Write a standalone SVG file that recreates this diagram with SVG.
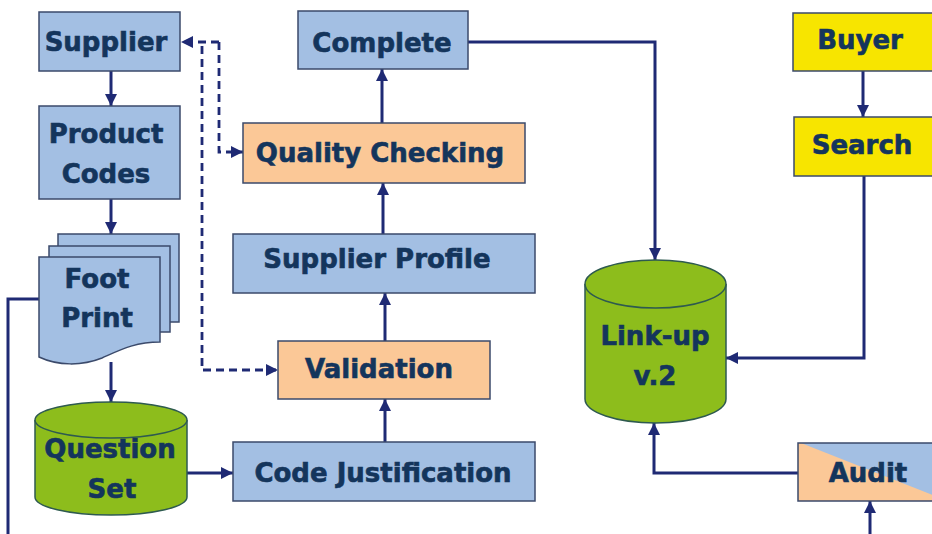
<svg xmlns="http://www.w3.org/2000/svg" width="932" height="534" viewBox="0 0 932 534">
<style>
.box{stroke:#3b4a6b;stroke-width:1.5}
.blue{fill:#a3bfe3}
.orange{fill:#fbc897}
.yellow{fill:#f7e500}
.green{fill:#8dbd1c;stroke:#2e5a50;stroke-width:1.5}
.t{font-family:"DejaVu Sans",Verdana,sans-serif;font-weight:bold;font-size:26px;fill:#14355c;stroke:#14355c;stroke-width:0.6;text-anchor:middle}
.c{fill:none;stroke:#1f2a74;stroke-width:3}
.d{fill:none;stroke:#1f2a74;stroke-width:2.8;stroke-dasharray:8 5}
</style>
<defs>
<marker id="ah" viewBox="0 0 10 10" refX="10" refY="5" markerWidth="12" markerHeight="12" markerUnits="userSpaceOnUse" orient="auto">
<path d="M0,0 L10,5 L0,10 Z" fill="#1f2a74"/>
</marker>
</defs>
<rect width="932" height="534" fill="#ffffff"/>
<g id="connectors">
<path class="c" d="M111,71 V106" marker-end="url(#ah)"/>
<path class="c" d="M111,199 V234" marker-end="url(#ah)"/>
<path class="c" d="M111,362 V402" marker-end="url(#ah)"/>
<path class="c" d="M187,473 H233" marker-end="url(#ah)"/>
<path class="c" d="M385,442 V399" marker-end="url(#ah)"/>
<path class="c" d="M385,341 V293" marker-end="url(#ah)"/>
<path class="c" d="M383,234 V183" marker-end="url(#ah)"/>
<path class="c" d="M382,123 V69" marker-end="url(#ah)"/>
<path class="c" d="M468,42 H655 V260" marker-end="url(#ah)"/>
<path class="c" d="M864,176 V358 H726" marker-end="url(#ah)"/>
<path class="c" d="M798,473 H654 V423" marker-end="url(#ah)"/>
<path class="c" d="M870,534 V501" marker-end="url(#ah)"/>
<path class="c" d="M863,71 V117" marker-end="url(#ah)"/>
<path class="c" d="M39,299 H8 V534"/>
<path class="d" d="M219,42 H181" marker-end="url(#ah)"/>
<path class="d" d="M219,42 V152 H243" marker-end="url(#ah)"/>
<path class="d" d="M202,46 V370 H278" marker-end="url(#ah)"/>
</g>
<g id="supplier">
<rect class="box blue" x="39" y="12" width="141" height="59"/>
<text class="t" x="106" y="51">Supplier</text>
</g>
<g id="product-codes">
<rect class="box blue" x="39" y="106" width="141" height="93"/>
<text class="t" x="106" y="143">Product</text>
<text class="t" x="106" y="183">Codes</text>
</g>
<g id="foot-print">
<rect class="box blue" x="58" y="234" width="121" height="88"/>
<rect class="box blue" x="49" y="246" width="121" height="86"/>
<path class="box blue" d="M39,257 H160 V342 C135,342 120,350 102,358 C82,366 58,366 39,357 Z"/>
<text class="t" x="97" y="288">Foot</text>
<text class="t" x="97" y="327">Print</text>
</g>
<g id="question-set">
<path class="green" d="M35,420 V497 A76,18 0 0 0 187,497 V420"/>
<ellipse class="green" cx="111" cy="420" rx="76" ry="18"/>
<text class="t" x="110" y="458">Question</text>
<text class="t" x="112" y="498">Set</text>
</g>
<g id="complete">
<rect class="box blue" x="298" y="11" width="170" height="58"/>
<text class="t" x="382" y="52">Complete</text>
</g>
<g id="quality-checking">
<rect class="box orange" x="243" y="123" width="282" height="60"/>
<text class="t" x="380" y="162">Quality Checking</text>
</g>
<g id="supplier-profile">
<rect class="box blue" x="233" y="234" width="302" height="59"/>
<text class="t" x="377" y="268">Supplier Profile</text>
</g>
<g id="validation">
<rect class="box orange" x="278" y="341" width="212" height="58"/>
<text class="t" x="379" y="378">Validation</text>
</g>
<g id="code-justification">
<rect class="box blue" x="233" y="442" width="302" height="59"/>
<text class="t" x="383" y="482">Code Justification</text>
</g>
<g id="link-up">
<path class="green" d="M585,284 V399 A70.5,24 0 0 0 726,399 V284"/>
<ellipse class="green" cx="655.5" cy="284" rx="70.5" ry="24"/>
<text class="t" x="655" y="345">Link-up</text>
<text class="t" x="655" y="385">v.2</text>
</g>
<g id="buyer">
<rect class="box yellow" x="793" y="13" width="145" height="58"/>
<text class="t" x="860" y="49">Buyer</text>
</g>
<g id="search">
<rect class="box yellow" x="794" y="117" width="144" height="59"/>
<text class="t" x="862" y="154">Search</text>
</g>
<g id="audit">
<rect class="orange" x="798" y="443" width="140" height="58"/>
<polygon class="blue" points="801,443 938,443 938,497"/>
<rect class="box" fill="none" x="798" y="443" width="140" height="58"/>
<text class="t" x="868" y="482">Audit</text>
</g>
</svg>
